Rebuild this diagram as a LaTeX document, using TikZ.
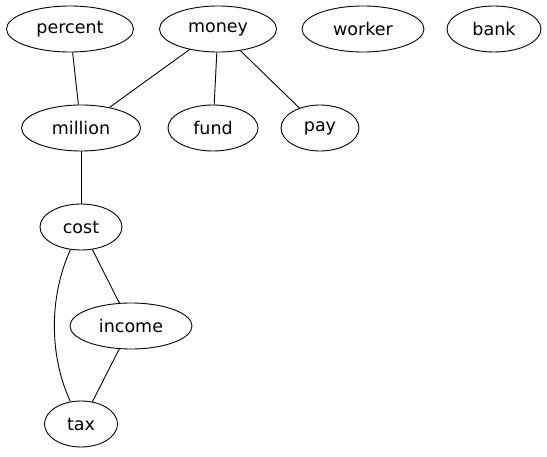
\documentclass[tikz,border=0pt]{standalone}
\usepackage{fontspec}
\setmainfont{DejaVu Sans}
\usetikzlibrary{shapes.geometric}
\begin{document}
\begin{tikzpicture}[x=1pt,y=1pt,
  ell/.style={draw, ellipse, inner sep=0pt, minimum height=46pt, line width=0.9pt,
    font=\fontsize{17.5}{20}\selectfont},
  edge/.style={line width=0.9pt}]
\useasboundingbox (0,0) rectangle (547,456);
\node[ell, minimum width=127pt] (percent) at (70,427) {percent};
\node[ell, minimum width=117pt] (money) at (218,427) {money};
\node[ell, minimum width=122pt] (worker) at (363,427) {worker};
\node[ell, minimum width=94pt] (bank) at (494,427) {bank};
\node[ell, minimum width=119pt] (million) at (81,328) {million};
\node[ell, minimum width=90pt] (fund) at (213,328) {fund};
\node[ell, minimum width=78pt] (pay) at (320,328) {pay};
\node[ell, minimum width=82pt] (cost) at (81,229) {cost};
\node[ell, minimum width=122pt] (income) at (131,130) {income};
\node[ell, minimum width=73pt] (tax) at (81,32) {tax};
\draw[edge] (percent) -- (million);
\draw[edge] (money) -- (million);
\draw[edge] (money) -- (fund);
\draw[edge] (money) -- (pay);
\draw[edge] (million) -- (cost);
\draw[edge] (cost) -- (income);
\draw[edge] (income) -- (tax);
\draw[edge] (cost) .. controls (49,160) and (49,100) .. (tax);
\end{tikzpicture}
\end{document}
